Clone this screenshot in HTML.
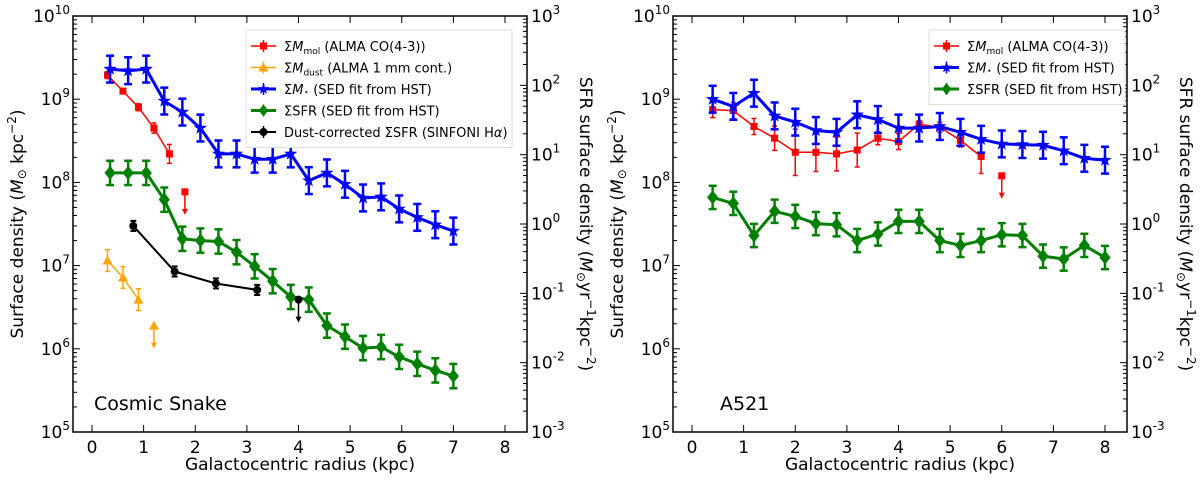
<!DOCTYPE html>
<html><head><meta charset="utf-8">
<style>
html,body{margin:0;padding:0;background:#fff;}
svg{display:block;font-family:"DejaVu Sans","Liberation Sans",sans-serif;}
</style></head>
<body>
<svg id="c" width="1200" height="480" viewBox="0 0 1200 480" xmlns="http://www.w3.org/2000/svg"></svg>
<script>
// ---- data: Cosmic Snake ----
const csStarX=[0.35,0.7,1.05,1.4,1.75,2.1,2.45,2.8,3.15,3.5,3.85,4.2,4.55,4.9,5.25,5.6,5.95,6.3,6.65,7.0];
const csStarY=[2.3e9,2.2e9,2.3e9,9.5e8,7e8,4.5e8,2.2e8,2.2e8,1.9e8,1.9e8,2.2e8,1.05e8,1.3e8,9.5e7,6.5e7,6.7e7,4.8e7,3.8e7,3.1e7,2.6e7];
const csSfrY=[1.3e8,1.3e8,1.3e8,6.2e7,2.1e7,2e7,1.95e7,1.45e7,9.8e6,6.5e6,4.2e6,3.9e6,1.9e6,1.4e6,1.02e6,1.05e6,8e5,6.6e5,5.5e5,4.7e5];
const csMolX=[0.3,0.6,0.9,1.2,1.5];
const csMolY=[1.95e9,1.25e9,8e8,4.5e8,2.2e8];
const csMolErr=[1.1,1.05,1.1,1.15,1.3];
const csMolLim=[1.8,7.7e7];
const csDustX=[0.3,0.6,0.9];
const csDustY=[1.15e7,7.2e6,3.9e6];
const csDustLim=[1.2,1.9e6];
const csHaX=[0.8,1.6,2.4,3.2];
const csHaY=[3e7,8.5e6,6.1e6,5.1e6];
const csHaLim=[4.0,3.9e6];
// ---- data: A521 ----
const aX=[0.4,0.8,1.2,1.6,2.0,2.4,2.8,3.2,3.6,4.0,4.4,4.8,5.2,5.6,6.0,6.4,6.8,7.2,7.6,8.0];
const aStarY=[1e9,8.2e8,1.18e9,6.3e8,5.3e8,4.2e8,4e8,6.5e8,5.7e8,4.5e8,4.5e8,4.7e8,4e8,3.3e8,2.9e8,2.85e8,2.8e8,2.4e8,1.95e8,1.85e8];
const aSfrY=[6.6e7,5.6e7,2.3e7,4.5e7,3.9e7,3.2e7,3.1e7,2e7,2.4e7,3.4e7,3.4e7,2e7,1.75e7,2e7,2.35e7,2.3e7,1.3e7,1.2e7,1.75e7,1.25e7];
const aMolX=[0.4,0.8,1.2,1.6,2.0,2.4,2.8,3.2,3.6,4.0,4.4,4.8,5.2,5.6];
const aMolY=[7.5e8,7.3e8,4.7e8,3.4e8,2.3e8,2.3e8,2.2e8,2.45e8,3.4e8,3.1e8,5e8,4.6e8,3.2e8,2.05e8];
const aMolErr=[1.25,1.25,1.25,1.4,1.9,1.7,1.6,1.6,1.2,1.25,1.1,1.15,1.2,1.6];
const aMolLim=[6.0,1.2e8];
const xTicks=[0,1,2,3,4,5,6,7,8];
const yDecades=[5,6,7,8,9,10];
const y2Decades=[-3,-2,-1,0,1,2,3];

const NS='http://www.w3.org/2000/svg';
const svg=document.getElementById('c');
function el(tag,attrs,parent,text){const e=document.createElementNS(NS,tag);for(const k in attrs)e.setAttribute(k,attrs[k]);if(text!==undefined)e.textContent=text;(parent||svg).appendChild(e);return e;}

function panel(ox,name){
  const L=ox+73,R=ox+527,T=16,B=432;
  const X=v=>ox+92+v*(413/8);
  const Y=v=>B-(Math.log10(v)-5)*(T-B)/-5;
  const Y2=d=>B-(d+3)*(B-T)/6;
  const g=el('g',{});
  
  
  const ax=el('g',{},g);
  
  
  el('rect',{x:L,y:T,width:R-L,height:B-T,fill:'none',stroke:'#000','stroke-width':1.5},ax);
  xTicks.forEach(t=>{const x=X(t);
    el('line',{x1:x,x2:x,y1:B,y2:B-7,stroke:'#000','stroke-width':1},ax);
    el('line',{x1:x,x2:x,y1:T,y2:T+7,stroke:'#000','stroke-width':1},ax);
    const tl=el('text',{x:x,y:B+21,'text-anchor':'middle','font-size':17},ax,String(t));
    
    
  });
  yDecades.forEach(d=>{const y=Y(Math.pow(10,d));
    el('line',{x1:L,x2:L+7,y1:y,y2:y,stroke:'#000'},ax);
    if(d<10)for(let m=2;m<10;m++){const ym=Y(m*Math.pow(10,d));el('line',{x1:L,x2:L+4,y1:ym,y2:ym,stroke:'#000'},ax);}
    const t=el('text',{x:L-3,y:y+6,'text-anchor':'end','font-size':17},ax);
    
    
    el('tspan',{},t,'10');el('tspan',{dy:-8,'font-size':12},t,String(d));
  });
  y2Decades.forEach(d=>{const y=Y2(d);
    el('line',{x1:R,x2:R-7,y1:y,y2:y,stroke:'#000'},ax);
    if(d<3)for(let m=2;m<10;m++){const ym=Y2(d+Math.log10(m));el('line',{x1:R,x2:R-4,y1:ym,y2:ym,stroke:'#000'},ax);}
    const t=el('text',{x:R+4,y:y+6,'font-size':17},ax);
    
    
    el('tspan',{},t,'10');el('tspan',{dy:-8,'font-size':12},t,String(d));
  });
  const xl=el('text',{x:ox+300,y:470,'text-anchor':'middle','font-size':17},ax,'Galactocentric radius (kpc)');
  
  const yl=el('text',{transform:`translate(${ox+23},224) rotate(-90)`,'text-anchor':'middle','font-size':17},ax);
  
  el('tspan',{},yl,'Surface density (');el('tspan',{'font-style':'italic'},yl,'M');el('tspan',{'font-size':12,dy:3},yl,'⊙');el('tspan',{dy:-3},yl,' kpc');el('tspan',{dy:-7,'font-size':12},yl,'−2');el('tspan',{dy:7},yl,')');
  const y2l=el('text',{transform:`translate(${ox+580},224) rotate(90)`,'text-anchor':'middle','font-size':17},ax);
  
  el('tspan',{},y2l,'SFR surface density (');el('tspan',{'font-style':'italic'},y2l,'M');el('tspan',{'font-size':12,dy:3},y2l,'⊙');el('tspan',{dy:-3},y2l,'yr');el('tspan',{dy:-7,'font-size':12},y2l,'−1');el('tspan',{dy:7},y2l,'kpc');el('tspan',{dy:-7,'font-size':12},y2l,'−2');el('tspan',{dy:7},y2l,')');
  return {g,X,Y,L,R,T,B};
}

function marker(p,type,x,y,color,s){
  if(type==='sq')return el('rect',{x:x-s,y:y-s,width:2*s,height:2*s,fill:color},p);
  if(type==='dia')return el('polygon',{points:`${x},${y-s} ${x+s*0.8},${y} ${x},${y+s} ${x-s*0.8},${y}`,fill:color},p);
  if(type==='circ')return el('circle',{cx:x,cy:y,r:s,fill:color},p);
  if(type==='tri')return el('polygon',{points:`${x},${y-s} ${x+s},${y+s*0.8} ${x-s},${y+s*0.8}`,fill:color},p);
  if(type==='star'){let pts=[];for(let i=0;i<10;i++){const r=i%2?s*0.4:s;const a=-Math.PI/2+i*Math.PI/5;pts.push((x+r*Math.cos(a)).toFixed(1)+','+(y+r*Math.sin(a)).toFixed(1));}return el('polygon',{points:pts.join(' '),fill:color},p);}
}

function series(P,name,xs,ys,errs,color,lw,type,ms,ew,cap){
  const g=el('g',{},P.g);
  
  
  const pts=xs.map((x,i)=>P.X(x).toFixed(1)+','+P.Y(ys[i]).toFixed(1)).join(' ');
  el('polyline',{points:pts,fill:'none',stroke:color,'stroke-width':lw,'stroke-linejoin':'round'},g);
  xs.forEach((x,i)=>{const px=P.X(x),f=Array.isArray(errs)?errs[i]:errs;
    const y1=P.Y(ys[i]*f),y2=P.Y(ys[i]/f);
    el('line',{x1:px,x2:px,y1:y1,y2:y2,stroke:color,'stroke-width':ew},g);
    el('line',{x1:px-cap,x2:px+cap,y1:y1,y2:y1,stroke:color,'stroke-width':ew},g);
    el('line',{x1:px-cap,x2:px+cap,y1:y2,y2:y2,stroke:color,'stroke-width':ew},g);
    const m=marker(g,type,px,P.Y(ys[i]),color,ms);
    
    
  });
}
function limit(P,name,lim,color,type,ms){
  const g=el('g',{},P.g);
  
  
  const x=P.X(lim[0]),y=P.Y(lim[1]);
  el('line',{x1:x,x2:x,y1:y,y2:y+20,stroke:color,'stroke-width':1.5},g);
  el('polygon',{points:`${x-3},${y+17} ${x+3},${y+17} ${x},${y+23}`,fill:color},g);
  marker(g,type,x,y,color,ms);
}
function legend(P,x,y,w,entries){
  const g=el('g',{},P.g);
  
  
  el('rect',{x:x,y:y,width:w,height:entries.length*21.5+10,fill:'#fff',stroke:'#ddd','stroke-width':1},g);
  entries.forEach((e,i)=>{const cy=y+16+i*21.5;
    const eg=el('g',{},g);
    
    
    el('line',{x1:x+5,x2:x+30,y1:cy,y2:cy,stroke:e.c,'stroke-width':e.lw},eg);
    el('line',{x1:x+17.5,x2:x+17.5,y1:cy-6,y2:cy+6,stroke:e.c,'stroke-width':1.5},eg);
    marker(eg,e.m,x+17.5,cy,e.c,e.s);
    const t=el('text',{x:x+38,y:cy+5,'font-size':13},eg);
    e.t.forEach(sp=>el('tspan',sp[1]||{},t,sp[0]));
  });
}

// Left panel
const P1=panel(0,'cosmic-snake');
series(P1,'cs-mmol-series',csMolX,csMolY,csMolErr,'#f00',1.5,'sq',3.5,1.5,2.5);
limit(P1,'cs-mmol-upper-limit',csMolLim,'#f00','sq',3.5);
series(P1,'cs-mdust-series',csDustX,csDustY,1.35,'orange',1.5,'tri',5,1.5,2.5);
limit(P1,'cs-mdust-upper-limit',csDustLim,'orange','tri',5);
series(P1,'cs-mstar-series',csStarX,csStarY,1.45,'#00f',3,'star',7,2.5,4);
series(P1,'cs-sfr-series',csStarX,csSfrY,1.4,'green',3,'dia',7,2.5,4);
series(P1,'cs-halpha-sfr-series',csHaX,csHaY,1.15,'#000',2,'circ',4,2,3);
limit(P1,'cs-halpha-upper-limit',csHaLim,'#000','circ',4);
legend(P1,246,30,266,[
 {c:'#f00',lw:1.5,m:'sq',s:3.5,t:[['Σ',{}],['M',{'font-style':'italic'}],['mol',{'font-size':9,dy:3}],[' (ALMA CO(4-3))',{dy:-3}]]},
 {c:'orange',lw:1.5,m:'tri',s:5,t:[['Σ',{}],['M',{'font-style':'italic'}],['dust',{'font-size':9,dy:3}],[' (ALMA 1 mm cont.)',{dy:-3}]]},
 {c:'#00f',lw:3,m:'star',s:6,t:[['Σ',{}],['M',{'font-style':'italic'}],['⋆',{'font-size':9,dy:1}],[' (SED fit from HST)',{dy:-1}]]},
 {c:'green',lw:3,m:'dia',s:6,t:[['ΣSFR (SED fit from HST)',{}]]},
 {c:'#000',lw:2,m:'circ',s:4,t:[[' Dust-corrected ΣSFR (SINFONI H',{}],['α',{'font-style':'italic'}],[')',{}]]}
]);
const n1=el('text',{x:94,y:410,'font-size':19},P1.g,'Cosmic Snake');


// Right panel
const P2=panel(600,'a521');
series(P2,'a521-mmol-series',aMolX,aMolY,aMolErr,'#f00',1.5,'sq',3.5,1.5,2.5);
limit(P2,'a521-mmol-upper-limit',aMolLim,'#f00','sq',3.5);
series(P2,'a521-mstar-series',aX,aStarY,1.45,'#00f',3,'star',7,2.5,4);
series(P2,'a521-sfr-series',aX,aSfrY,1.38,'green',3,'dia',7,2.5,4);
legend(P2,929,30,196,[
 {c:'#f00',lw:1.5,m:'sq',s:3.5,t:[['Σ',{}],['M',{'font-style':'italic'}],['mol',{'font-size':9,dy:3}],[' (ALMA CO(4-3))',{dy:-3}]]},
 {c:'#00f',lw:3,m:'star',s:6,t:[['Σ',{}],['M',{'font-style':'italic'}],['⋆',{'font-size':9,dy:1}],[' (SED fit from HST)',{dy:-1}]]},
 {c:'green',lw:3,m:'dia',s:6,t:[['ΣSFR (SED fit from HST)',{}]]}
]);
const n2=el('text',{x:720,y:410,'font-size':19},P2.g,'A521');

</script>
</body></html>
